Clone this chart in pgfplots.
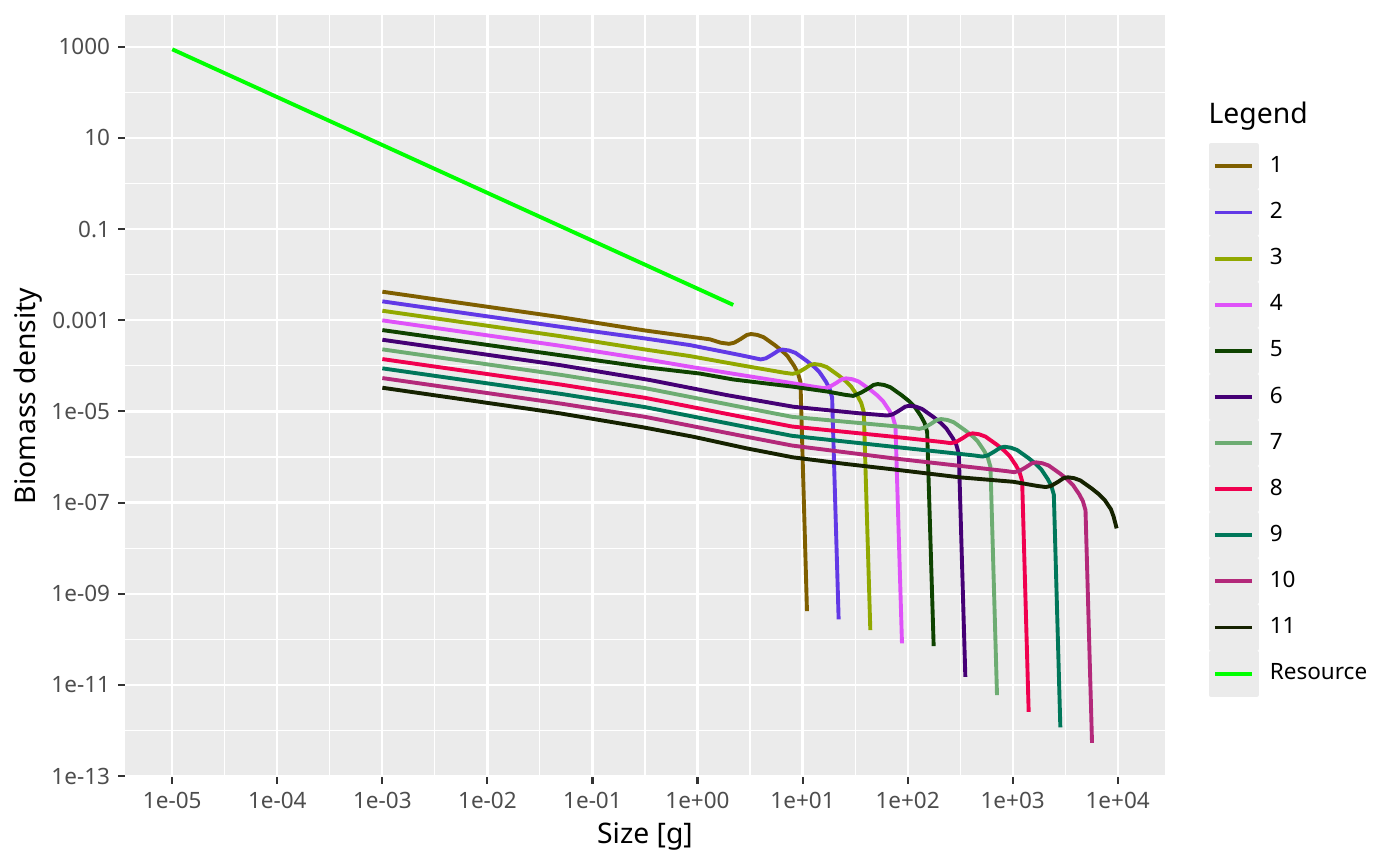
\documentclass[border=0pt]{standalone}
\usepackage{fontspec}
\setmainfont{Noto Sans}
\usepackage{pgfplots}
\pgfplotsset{compat=1.18}
\definecolor{panelbg}{HTML}{EBEBEB}
\definecolor{tickgrey}{HTML}{4D4D4D}
\definecolor{tickmark}{HTML}{333333}
\definecolor{c1}{HTML}{7F5F00}
\definecolor{c2}{HTML}{6239E6}
\definecolor{c3}{HTML}{91A800}
\definecolor{c4}{HTML}{DF52F9}
\definecolor{c5}{HTML}{0E4300}
\definecolor{c6}{HTML}{450075}
\definecolor{c7}{HTML}{6DAC72}
\definecolor{c8}{HTML}{F0004F}
\definecolor{c9}{HTML}{00775A}
\definecolor{c10}{HTML}{B3297A}
\definecolor{c11}{HTML}{152200}
\definecolor{cres}{HTML}{00FF00}
\begin{document}
\begin{tikzpicture}
\path[use as bounding box] (-45pt,-32.04pt) rectangle (459pt,279.72pt);
\begin{axis}[
  at={(0pt,0pt)}, anchor=south west,
  scale only axis, width=374.4pt, height=274.32pt,
  xmin=-5.45, xmax=4.45, ymin=-13.02, ymax=3.695,
  axis background/.style={fill=panelbg},
  axis line style={draw=none},
  xtick={-5,-4,-3,-2,-1,0,1,2,3,4},
  xticklabels={1e-05,1e-04,1e-03,1e-02,1e-01,1e+00,1e+01,1e+02,1e+03,1e+04},
  minor xtick={-4.5,-3.5,-2.5,-1.5,-0.5,0.5,1.5,2.5,3.5},
  ytick={-13,-11,-9,-7,-5,-3,-1,1,3},
  yticklabels={1e-13,1e-11,1e-09,1e-07,1e-05,0.001,0.1,10,1000},
  minor ytick={-12,-10,-8,-6,-4,-2,0,2},
  xtick pos=bottom, ytick pos=left,
  tick align=outside,
  major tick length=2.4pt, minor tick length=0pt,
  tick style={color=tickmark, line width=0.75pt},
  grid=both,
  major grid style={white, line width=0.8pt},
  minor grid style={white, line width=0.4pt},
  tick label style={font=\fontsize{8.1}{9.7}\selectfont, text=tickgrey},
  xticklabel style={anchor=north, inner sep=0pt, yshift=-3pt},
  yticklabel style={anchor=east, inner sep=0pt, xshift=-2.8pt},
  xlabel={Size [g]}, ylabel={Biomass density},
  label style={font=\fontsize{10.2}{12}\selectfont},
  xlabel style={at={(axis description cs:0.5,-0.0868)}, anchor=base},
  ylabel style={at={(axis description cs:-0.0865,0.5)}, anchor=base},
  every axis plot/.append style={line width=1.4pt, line join=round, no marks},
  legend style={at={(axis description cs:1.0422,0.8316)}, anchor=north west,
    draw=none, fill=none, inner sep=0pt, outer sep=0pt,
    row sep=0pt, column sep=4pt,
    nodes={inner sep=0pt},
    font=\fontsize{8.1}{9.7}\selectfont},
  legend cell align=left,
  legend image code/.code={%
    \fill[panelbg] (0pt,-7.6pt) rectangle (16.56pt,7.6pt);
    \draw[#1, line width=1.4pt] (1.44pt,0pt) -- (14.76pt,0pt);},
]
\addplot[c1] coordinates {(-3,-2.375) (-1.3,-2.935) (-0.5,-3.225) (0.118,-3.419) (0.22,-3.493) (0.30,-3.518) (0.35,-3.493) (0.41,-3.413) (0.47,-3.323) (0.51,-3.303) (0.57,-3.323) (0.63,-3.373) (0.74,-3.553) (0.81,-3.683) (0.86,-3.798) (0.92,-4.003) (0.955,-4.153) (0.98,-4.353) (1.042,-9.381)};
\addlegendentry{1}
\addplot[c2] coordinates {(-3,-2.586) (-1.3,-3.146) (-0.5,-3.40) (-0.074,-3.545) (0.405,-3.764) (0.6015,-3.860) (0.6515,-3.835) (0.7115,-3.755) (0.7715,-3.665) (0.8115,-3.645) (0.8715,-3.665) (0.9315,-3.715) (1.0415,-3.895) (1.1115,-4.025) (1.1615,-4.140) (1.2215,-4.345) (1.2565,-4.495) (1.2815,-4.695) (1.3435,-9.563)};
\addlegendentry{2}
\addplot[c3] coordinates {(-3,-2.792) (-1.3,-3.352) (-0.5,-3.642) (-0.074,-3.786) (0.405,-3.984) (0.823,-4.151) (0.903,-4.176) (0.953,-4.151) (1.013,-4.071) (1.073,-3.981) (1.113,-3.961) (1.173,-3.981) (1.233,-4.031) (1.343,-4.211) (1.413,-4.341) (1.463,-4.456) (1.523,-4.661) (1.558,-4.811) (1.583,-5.011) (1.645,-9.797)};
\addlegendentry{3}
\addplot[c4] coordinates {(-3,-3.003) (-1.3,-3.563) (-0.5,-3.853) (-0.074,-4.02) (0.45,-4.215) (0.9,-4.38) (1.1245,-4.465) (1.2045,-4.490) (1.2545,-4.465) (1.3145,-4.385) (1.3745,-4.295) (1.4145,-4.275) (1.4745,-4.295) (1.5345,-4.345) (1.6445,-4.525) (1.7145,-4.655) (1.7645,-4.770) (1.8245,-4.975) (1.8595,-5.125) (1.8845,-5.325) (1.9465,-10.089)};
\addlegendentry{4}
\addplot[c5] coordinates {(-3,-3.216) (-1.3,-3.77) (-0.5,-4.03) (0.023,-4.17) (0.341,-4.30) (0.912,-4.459) (1.25,-4.57) (1.40,-4.635) (1.483,-4.66) (1.556,-4.59) (1.616,-4.51) (1.676,-4.42) (1.716,-4.400) (1.776,-4.42) (1.836,-4.47) (1.946,-4.65) (2.016,-4.78) (2.066,-4.895) (2.126,-5.10) (2.161,-5.25) (2.186,-5.45) (2.248,-10.148)};
\addlegendentry{5}
\addplot[c6] coordinates {(-3,-3.428) (-1.3,-3.988) (-0.451,-4.313) (0.278,-4.642) (0.912,-4.898) (1.547,-5.043) (1.70,-5.07) (1.8075,-5.091) (1.8575,-5.066) (1.9175,-4.986) (1.9775,-4.896) (2.0175,-4.876) (2.0775,-4.896) (2.1375,-4.946) (2.2475,-5.126) (2.3175,-5.256) (2.3675,-5.371) (2.4275,-5.576) (2.4625,-5.726) (2.4875,-5.926) (2.5495,-10.822)};
\addlegendentry{6}
\addplot[c7] coordinates {(-3,-3.639) (-1.3,-4.199) (-0.5,-4.489) (0.45,-4.919) (0.9,-5.119) (2.029,-5.358) (2.109,-5.383) (2.159,-5.358) (2.219,-5.278) (2.279,-5.188) (2.319,-5.168) (2.379,-5.188) (2.439,-5.238) (2.549,-5.418) (2.619,-5.548) (2.669,-5.663) (2.729,-5.868) (2.764,-6.018) (2.789,-6.218) (2.851,-11.223)};
\addlegendentry{7}
\addplot[c8] coordinates {(-3,-3.852) (-1.3,-4.412) (-0.5,-4.702) (0.45,-5.132) (0.9,-5.332) (1.864,-5.556) (2.3305,-5.672) (2.4105,-5.697) (2.4605,-5.672) (2.5205,-5.592) (2.5805,-5.502) (2.6205,-5.482) (2.6805,-5.502) (2.7405,-5.552) (2.8505,-5.732) (2.9205,-5.862) (2.9705,-5.977) (3.0305,-6.182) (3.0655,-6.332) (3.0905,-6.532) (3.1525,-11.590)};
\addlegendentry{8}
\addplot[c9] coordinates {(-3,-4.056) (-1.3,-4.616) (-0.5,-4.906) (0.45,-5.336) (0.9,-5.536) (1.864,-5.776) (2.632,-5.966) (2.712,-5.991) (2.762,-5.966) (2.822,-5.886) (2.882,-5.796) (2.922,-5.776) (2.982,-5.796) (3.042,-5.846) (3.152,-6.026) (3.222,-6.156) (3.272,-6.271) (3.332,-6.476) (3.367,-6.626) (3.392,-6.826) (3.454,-11.932)};
\addlegendentry{9}
\addplot[c10] coordinates {(-3,-4.269) (-1.3,-4.829) (-0.5,-5.119) (0.45,-5.549) (0.9,-5.749) (1.864,-6.03) (2.9335,-6.308) (3.0135,-6.333) (3.0635,-6.308) (3.1235,-6.228) (3.1835,-6.138) (3.2235,-6.118) (3.2835,-6.138) (3.3435,-6.188) (3.4535,-6.368) (3.5235,-6.498) (3.5735,-6.613) (3.6335,-6.818) (3.6685,-6.968) (3.6935,-7.168) (3.7555,-12.270)};
\addlegendentry{10}
\addplot[c11] coordinates {(-3,-4.481) (-1.309,-5.043) (-0.516,-5.350) (-0.04,-5.556) (0.468,-5.811) (0.912,-6.009) (1.4,-6.15) (1.864,-6.272) (2.499,-6.447) (3.006,-6.544) (3.235,-6.635) (3.315,-6.66) (3.365,-6.635) (3.425,-6.555) (3.485,-6.465) (3.525,-6.445) (3.585,-6.465) (3.645,-6.515) (3.755,-6.695) (3.825,-6.825) (3.875,-6.94) (3.935,-7.145) (3.96,-7.30) (3.99,-7.566)};
\addlegendentry{11}
\addplot[cres] coordinates {(-5,2.943) (-4,1.893) (-3,0.843) (-2,-0.207) (-1,-1.257) (0,-2.307) (0.34,-2.664)};
\addlegendentry{Resource}
\end{axis}
\node[anchor=base west, inner sep=0pt, font=\fontsize{10.2}{12}\selectfont] at (389.9pt,235.3pt) {Legend};
\end{tikzpicture}
\end{document}
